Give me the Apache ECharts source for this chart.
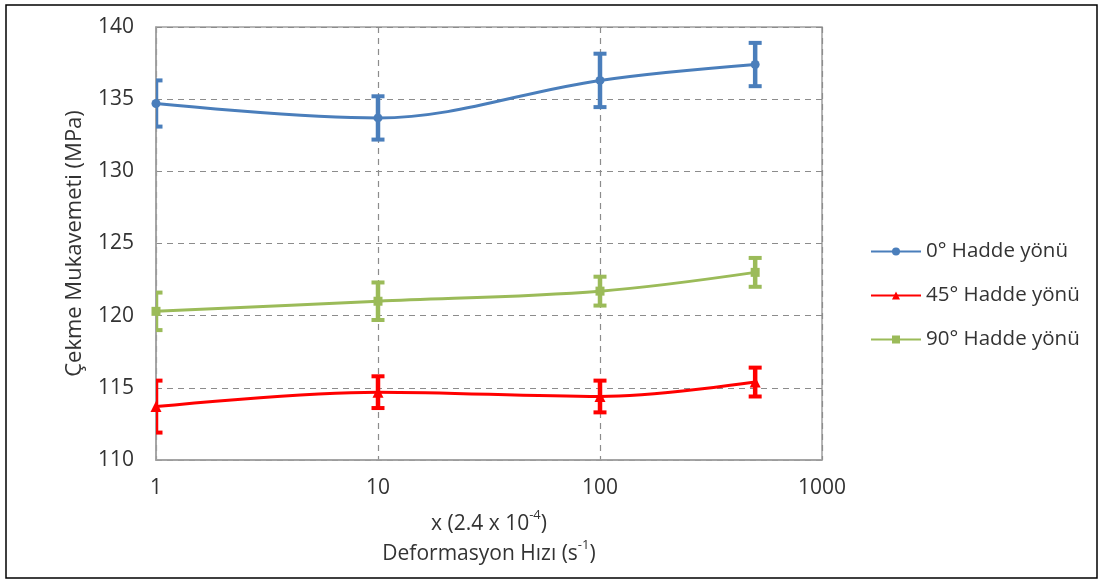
<!DOCTYPE html>
<html>
<head>
<meta charset="utf-8">
<script src="https://cdn.jsdelivr.net/npm/echarts@6/dist/echarts.min.js"></script>
<style>
  html, body { margin: 0; padding: 0; background: #fff; }
  #chart { width: 1104px; height: 583px; }
</style>
</head>
<body>
<div id="chart"></div>
<script>
// deformasyon hızı (x 2.4e-4)
const rates = [1, 10, 100, 500];

const s0 = [134.7, 133.7, 136.3, 137.4];
const s0err = [1.6, 1.5, 1.85, 1.5];

const s45 = [113.7, 114.7, 114.4, 115.4];
const s45err = [1.8, 1.1, 1.1, 1.0];

const s90 = [120.3, 121.0, 121.7, 123.0];
const s90err = [1.3, 1.3, 1.0, 1.0];

const yTicks = [110, 115, 120, 125, 130, 135, 140];

const names = ['0° Hadde yönü', '45° Hadde yönü', '90° Hadde yönü'];
const colors = ['#4a7ebb', '#ff0000', '#9bbb59'];

const FONT = '"Open Sans", "Liberation Sans", sans-serif';
const TXT = '#333333';

const chart = echarts.init(document.getElementById('chart'));

function lineSeries(name, vals, color, symbol, size) {
    return {
        name: name,
        type: 'line',
        smooth: 0.35,
        symbol: symbol,
        symbolSize: size,
        itemStyle: { color: color },
        lineStyle: { color: color, width: 3 },
        data: rates.map((r, i) => [r, vals[i]]),
        z: 3
    };
}

// error bars drawn as rects, cut by hand at the plot's left edge
function errSeries(vals, errs, color) {
    return {
        type: 'custom',
        name: 'err',
        silent: true,
        z: 4,
        data: rates.map((r, i) => [r, vals[i] - errs[i], vals[i] + errs[i]]),
        encode: { x: 0, y: [1, 2] },
        renderItem: (params, api) => {
            const cs = params.coordSys;
            const lo = api.coord([api.value(0), api.value(1)]);
            const hi = api.coord([api.value(0), api.value(2)]);
            const cx = lo[0];
            const bw = 4.5, cw = 6.5, ct = 4;
            const rect = (x1, x2, y1, y2) => {
                x1 = Math.max(x1, cs.x);
                x2 = Math.min(x2, cs.x + cs.width);
                return { type: 'rect', shape: { x: x1, y: y1, width: x2 - x1, height: y2 - y1 }, style: { fill: color } };
            };
            return {
                type: 'group',
                children: [
                    rect(cx - bw / 2, cx + bw / 2, hi[1], lo[1]),
                    rect(cx - cw, cx + cw, hi[1] - ct / 2, hi[1] + ct / 2),
                    rect(cx - cw, cx + cw, lo[1] - ct / 2, lo[1] + ct / 2)
                ]
            };
        }
    };
}

chart.setOption({
    animation: false,
    textStyle: { fontFamily: FONT },
    grid: {
        left: 156, right: 282, top: 27, bottom: 123,
        show: true, borderColor: '#a0a0a0', borderWidth: 1.5
    },
    legend: {
        orient: 'vertical',
        left: 865,
        top: 236,
        itemGap: 23,
        itemWidth: 50,
        itemHeight: 10,
        data: names,
        textStyle: { fontSize: 20.5, color: TXT, fontFamily: FONT }
    },
    xAxis: {
        type: 'log',
        logBase: 10,
        min: 1,
        max: 1000,
        axisLine: { show: true, lineStyle: { color: '#a0a0a0', width: 1.5 } },
        axisTick: { show: false },
        axisLabel: { fontSize: 21, color: TXT, margin: 18, formatter: v => String(v) },
        splitLine: { show: true, lineStyle: { color: '#8c8c8c', type: [6, 5], width: 1.2 } },
        name: 'x (2.4 x 10{sup|-4})\nDeformasyon Hızı (s{sup|-1})',
        nameLocation: 'middle',
        nameGap: 49,
        nameTextStyle: {
            fontSize: 21,
            color: TXT,
            lineHeight: 30,
            rich: {
                sup: { fontSize: 13, verticalAlign: 'top', padding: [0, 0, 10, 0], color: TXT }
            }
        }
    },
    yAxis: {
        type: 'value',
        min: yTicks[0],
        max: yTicks[yTicks.length - 1],
        interval: 5,
        axisLine: { show: true, lineStyle: { color: '#a0a0a0', width: 1.5 } },
        axisTick: { show: false },
        axisLabel: { fontSize: 21, color: TXT, margin: 22 },
        splitLine: { show: true, lineStyle: { color: '#8c8c8c', type: [6, 5], width: 1.2 } },
        name: 'Çekme Mukavemeti (MPa)',
        nameLocation: 'middle',
        nameGap: 70,
        nameTextStyle: { fontSize: 22, color: TXT }
    },
    graphic: [{
        type: 'rect',
        shape: { x: 6, y: 5, width: 1091, height: 573 },
        style: { fill: 'none', stroke: '#000', lineWidth: 1.5 },
        silent: true
    }],
    series: [
        lineSeries(names[0], s0, colors[0], 'circle', 9),
        lineSeries(names[1], s45, colors[1], 'triangle', 11),
        lineSeries(names[2], s90, colors[2], 'rect', 9),
        errSeries(s0, s0err, colors[0]),
        errSeries(s45, s45err, colors[1]),
        errSeries(s90, s90err, colors[2])
    ]
});
</script>
</body>
</html>
